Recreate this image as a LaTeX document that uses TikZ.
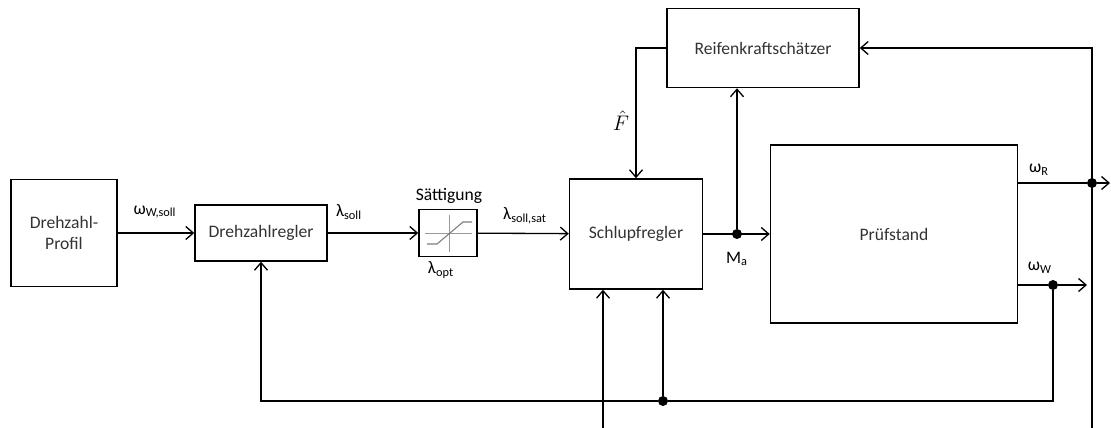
\documentclass[tikz,border=0pt]{standalone}
\usepackage{fontspec}
\setmainfont{Carlito}
\usetikzlibrary{arrows.meta,positioning,calc}
\definecolor{txt}{HTML}{333333}
\definecolor{icon}{HTML}{9A9A9A}

\begin{document}
\begin{tikzpicture}[
  x=0.2mm,y=-0.2mm,
  font=\fontsize{10}{12}\selectfont,
  box/.style={draw,line width=0.85pt,align=center,inner sep=0pt,text=txt},
  arr/.style={-{Straight Barb[length=1.5mm,width=2.6mm]},line width=0.75pt},
  ln/.style={line width=0.75pt},
  dot/.style={circle,fill,inner sep=0pt,minimum size=2mm},
  lbl/.style={inner sep=1pt,text=black}
]
\useasboundingbox (0,0) rectangle (1111,428);
\node[box,minimum width=21.2mm,minimum height=21.4mm] (prof) at (64,233) {Drehzahl-\\Profil};
\node[box,minimum width=26.4mm,minimum height=11.2mm] (dreg) at (261,233) {Drehzahlregler};
\node[box,minimum width=11.6mm,minimum height=9.4mm] (sat) at (448,233) {};
\node[box,minimum width=26.6mm,minimum height=22mm] (schlupf) at (636,234) {Schlupfregler};
\node[box,minimum width=49.4mm,minimum height=35.6mm] (pruef) at (894,234) {Prüfstand};
\node[box,minimum width=38.4mm,minimum height=15.8mm] (reif) at (763,48) {Reifenkraftschätzer};

% saturation icon
\draw[icon,line width=0.5pt] (449,215) -- (449,252) (425,233) -- (472,233);
\draw[icon!80!black,line width=0.6pt] (427,244) -- (437,244) -- (463,222) -- (472,222);

% junctions
\node[dot] (ma) at (737,234) {};
\node[dot] (wr) at (1092,183) {};
\node[dot] (ww) at (1053,285) {};
\node[dot] (fb) at (663,401) {};
\coordinate (wrout) at (1110,183);
\coordinate (wwout) at (1087,285);
\coordinate (rbot) at (1092,428);
\coordinate (sbot) at (603,428);

% forward path
\draw[arr] (prof) -- (dreg);
\draw[arr] (dreg) -- (sat);
\draw[arr] (sat) -- (schlupf);
\draw[arr] (schlupf) -- (pruef);
\draw[arr] (ma) -- (ma |- reif.south);
\draw[arr] (reif.west) -| (schlupf.north);

% outputs and feedback
\draw[ln] (pruef.east |- wr) -- (wr);
\draw[arr] (wr) -- (wrout);
\draw[ln] (pruef.east |- ww) -- (ww);
\draw[arr] (ww) -- (wwout);
\draw[arr] (rbot) |- (reif.east);
\draw[ln] (ww) |- (fb);
\draw[arr] (fb) -| (dreg.south);
\draw[arr] (fb) -- (fb |- schlupf.south);
\draw[arr] (sbot) -- (sbot |- schlupf.south);

% labels
\node[lbl] (lwsoll) at (155,212) {ω\textsubscript{W,soll}};
\node[lbl] (llsoll) at (349,212) {λ\textsubscript{soll}};
\node[lbl] (lsat) at (449,196) {Sättigung};
\node[lbl] (lopt) at (441,270) {λ\textsubscript{opt}};
\node[lbl] (llsat) at (525,216) {λ\textsubscript{soll,sat}};
\node[lbl,font=\large] (lf) at (621,121) {$\hat{F}$};
\node[lbl] (lma) at (737,259) {M\textsubscript{a}};
\node[lbl] (lwr) at (1039,170) {ω\textsubscript{R}};
\node[lbl] (lww) at (1040,268) {ω\textsubscript{W}};
\end{tikzpicture}
\end{document}
